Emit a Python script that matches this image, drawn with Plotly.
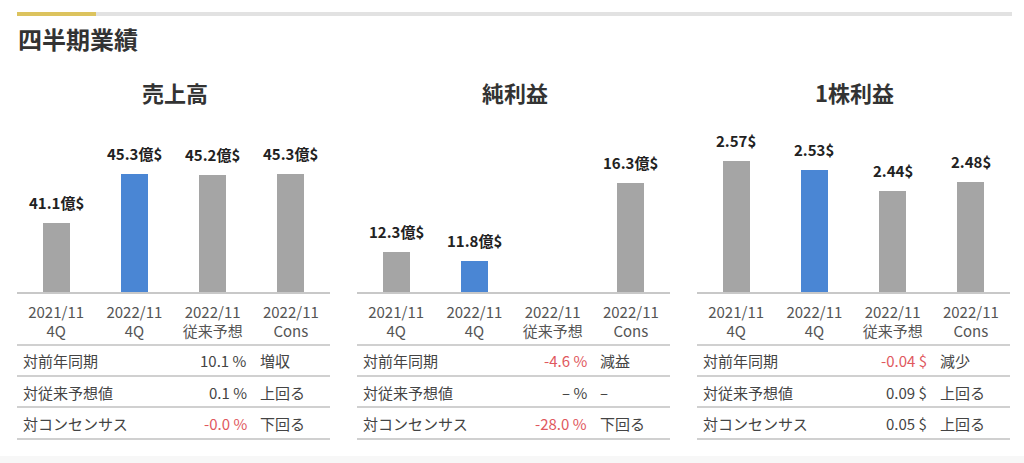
import plotly.graph_objects as go

W, H = 1024, 463
FONT = "Noto Sans CJK JP"

# ---------------- data ----------------
categories = ["2021/11<br>4Q", "2022/11<br>4Q", "2022/11<br>従来予想", "2022/11<br>Cons"]
panel_titles = ["売上高", "純利益", "1株利益"]

sales = [41.1, 45.3, 45.2, 45.3]           # 億$
net_income = [12.3, 11.8, None, 16.3]      # 億$
eps = [2.57, 2.53, 2.44, 2.48]             # $

sales_labels = ["41.1億$", "45.3億$", "45.2億$", "45.3億$"]
net_income_labels = ["12.3億$", "11.8億$", "", "16.3億$"]
eps_labels = ["2.57$", "2.53$", "2.44$", "2.48$"]

row_labels = ["対前年同期", "対従来予想値", "対コンセンサス"]
sales_diff = ["10.1 %", "0.1 %", "-0.0 %"]
sales_judge = ["増収", "上回る", "下回る"]
net_diff = ["-4.6 %", "– %", "-28.0 %"]
net_judge = ["減益", "–", "下回る"]
eps_diff = ["-0.04 $", "0.09 $", "0.05 $"]
eps_judge = ["減少", "上回る", "上回る"]

y_ranges = [[35.2, 48.22], [10.0, 18.76], [2.008, 2.66]]

# ---------------- style ----------------
GRAY = "#a5a5a5"
BLUE = "#4a86d4"
RED = "#e0585e"
TXT = "#444444"
LINE = "#d0d0d0"
bar_colors = [GRAY, BLUE, GRAY, GRAY]

panel_left = [17, 357, 697]
panel_w = 313
plot_top, plot_bot = 140, 292


def fx(px):
    return px / W


def fy(py):
    return 1 - py / H


fig = go.Figure()

series = [sales, net_income, eps]
labels = [sales_labels, net_income_labels, eps_labels]
diffs = [sales_diff, net_diff, eps_diff]
judges = [sales_judge, net_judge, eps_judge]

annotations = []
shapes = []

for i in range(3):
    xa = "x" if i == 0 else f"x{i+1}"
    ya = "y" if i == 0 else f"y{i+1}"
    fig.add_trace(go.Bar(
        x=categories, y=series[i], xaxis=xa, yaxis=ya,
        marker=dict(color=bar_colors, line=dict(width=0)),
        width=0.345,
        hoverinfo="skip", showlegend=False,
    ))
    # value labels
    for c, v, t in zip(categories, series[i], labels[i]):
        if v is None:
            continue
        annotations.append(dict(
            x=c, y=v, xref=xa, yref=ya, text=f"<b>{t}</b>", showarrow=False,
            yanchor="bottom", yshift=8,
            font=dict(family=FONT, size=15, color="#222222"),
        ))
    L = panel_left[i]
    xaxis = dict(
        domain=[fx(L), fx(L + panel_w)], anchor=ya,
        range=[-0.5, 3.5], showline=True, linecolor="#c8c8c8", linewidth=1.5,
        showgrid=False, zeroline=False, ticks="", fixedrange=True,
        ticklabelstandoff=6,
        tickfont=dict(family=FONT, size=15, color="#555555"),
    )
    yaxis = dict(
        domain=[fy(plot_bot), fy(plot_top)], anchor=xa,
        range=[y_ranges[i][0], y_ranges[i][1]], visible=False, fixedrange=True,
    )
    key = "" if i == 0 else str(i + 1)
    fig.update_layout(**{f"xaxis{key}": xaxis, f"yaxis{key}": yaxis})

    # panel title
    annotations.append(dict(
        x=fx(L + panel_w / 2 + 1), y=fy(92), xref="paper", yref="paper",
        text=f"<b>{panel_titles[i]}</b>", showarrow=False,
        xanchor="center", yanchor="middle",
        font=dict(family=FONT, size=22, color="#333333"),
    ))

    # table
    for ly in [345, 376, 407, 439]:
        shapes.append(dict(
            type="line", xref="paper", yref="paper",
            x0=fx(L), x1=fx(L + panel_w), y0=fy(ly), y1=fy(ly),
            line=dict(color=LINE, width=2),
        ))
    for r, ry in enumerate([360, 392, 423]):
        annotations.append(dict(
            x=fx(L + 4), y=fy(ry), xref="paper", yref="paper",
            text=row_labels[r], showarrow=False, xanchor="left", yanchor="middle",
            font=dict(family=FONT, size=15, color=TXT),
        ))
        d = diffs[i][r]
        annotations.append(dict(
            x=fx(L + 232), y=fy(ry), xref="paper", yref="paper",
            text=d, showarrow=False, xanchor="right", yanchor="middle",
            font=dict(family=FONT, size=15, color=RED if d.startswith("-") else TXT),
        ))
        annotations.append(dict(
            x=fx(L + 241), y=fy(ry), xref="paper", yref="paper",
            text=judges[i][r], showarrow=False, xanchor="left", yanchor="middle",
            font=dict(family=FONT, size=15, color=TXT),
        ))

# header bar
shapes.append(dict(type="rect", xref="paper", yref="paper",
                   x0=fx(96), x1=fx(1012), y0=fy(16), y1=fy(12),
                   fillcolor="#e2e2e2", line=dict(width=0)))
shapes.append(dict(type="rect", xref="paper", yref="paper",
                   x0=fx(17), x1=fx(96), y0=fy(16), y1=fy(12),
                   fillcolor="#dcc35e", line=dict(width=0)))
# bottom band
shapes.append(dict(type="rect", xref="paper", yref="paper",
                   x0=0, x1=1, y0=0, y1=fy(456),
                   fillcolor="#f7f7f7", line=dict(width=0), layer="below"))

annotations.append(dict(
    x=fx(16), y=fy(39), xref="paper", yref="paper",
    text="<b>四半期業績</b>", showarrow=False, xanchor="left", yanchor="middle",
    font=dict(family=FONT, size=24, color="#333333"),
))

fig.update_layout(
    width=W, height=H, margin=dict(l=0, r=0, t=0, b=0),
    paper_bgcolor="white", plot_bgcolor="white",
    annotations=annotations, shapes=shapes, bargap=0,
    font=dict(family=FONT),
)

fig.write_html("out.html", config={"displayModeBar": False})
